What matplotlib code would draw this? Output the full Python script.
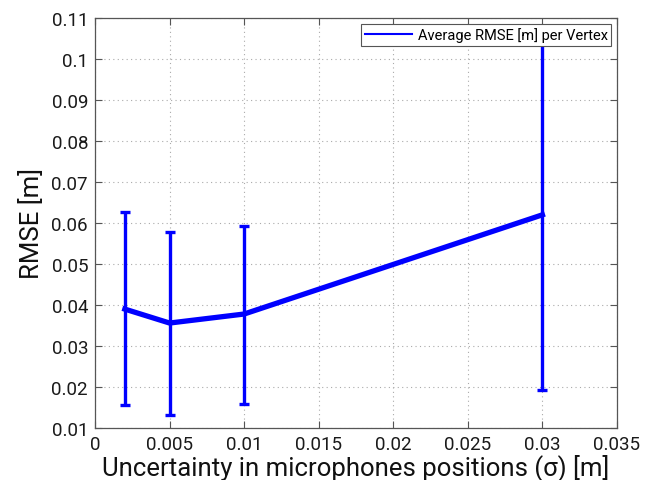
import matplotlib
matplotlib.use("Agg")
import matplotlib.pyplot as plt
from matplotlib.lines import Line2D

x_sigma = [0.002, 0.005, 0.01, 0.03]
rmse_mean = [0.0390, 0.0356, 0.0378, 0.0620]
rmse_low = [0.0156, 0.0132, 0.0158, 0.0193]
rmse_high = [0.0627, 0.0579, 0.0593, 0.1050]
xticks = [0, 0.005, 0.01, 0.015, 0.02, 0.025, 0.03, 0.035]
xtick_labels = ["0", "0.005", "0.01", "0.015", "0.02", "0.025", "0.03", "0.035"]
yticks = [0.01, 0.02, 0.03, 0.04, 0.05, 0.06, 0.07, 0.08, 0.09, 0.1, 0.11]
ytick_labels = ["0.01", "0.02", "0.03", "0.04", "0.05", "0.06", "0.07", "0.08", "0.09", "0.1", "0.11"]

plt.rcParams['font.family'] = ['Roboto', 'DejaVu Sans']

fig = plt.figure(figsize=(6.67, 4.81), dpi=100)
ax = fig.add_axes([95/667, 52/481, (617-95)/667, (429-19)/481])

yerr = [[m - l for m, l in zip(rmse_mean, rmse_low)],
        [h - m for m, h in zip(rmse_mean, rmse_high)]]
ax.errorbar(x_sigma, rmse_mean, yerr=yerr, color='#0000ff', lw=3.8,
            elinewidth=2.4, capsize=3.5, capthick=2.4, zorder=3)

ax.set_xlim(0, 0.035)
ax.set_ylim(0.01, 0.11)
ax.set_xticks(xticks)
ax.set_xticklabels(xtick_labels)
ax.set_yticks(yticks)
ax.set_yticklabels(ytick_labels)
ax.tick_params(direction='in', top=True, right=True, labelsize=13.5,
               length=5, color='#555555', labelcolor='#1a1a1a', pad=5)
ax.grid(True, linestyle=(0, (1, 3)), color='#aaaaaa', lw=0.8)
for s in ax.spines.values():
    s.set_color('#555555')
    s.set_linewidth(0.9)

ax.set_xlabel('Uncertainty in microphones positions (σ) [m]', fontsize=18.5,
              color='#111111', labelpad=0)
ax.set_ylabel('RMSE [m]', fontsize=18.5, color='#111111', labelpad=5)

handle = Line2D([], [], color='#0000ff', lw=1.5)
leg = ax.legend([handle], ['Average RMSE [m] per Vertex'], loc='upper right',
                fontsize=10.5, fancybox=False, framealpha=1,
                edgecolor='#555555', borderpad=0.25, handlelength=3.2,
                handletextpad=0.4, borderaxespad=0.4, labelcolor='#000000')
leg.get_frame().set_linewidth(0.8)
leg.set_zorder(5)

fig.savefig('out.png', dpi=100)
